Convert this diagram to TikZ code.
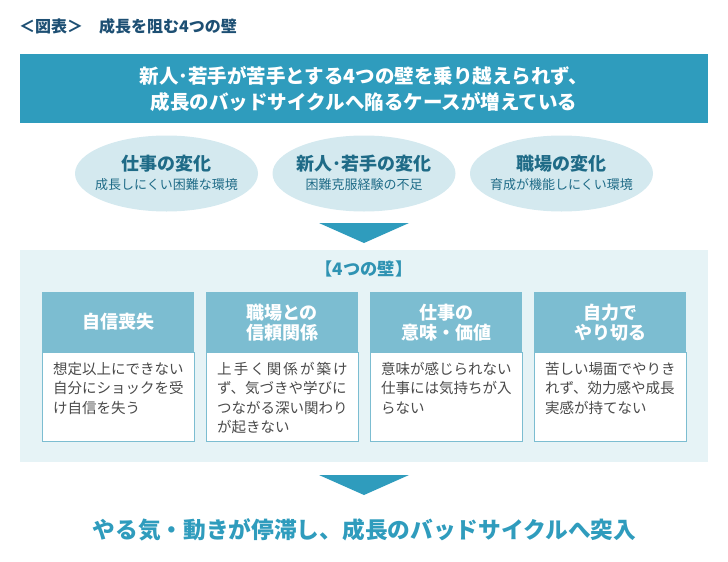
\documentclass[tikz,border=0pt]{standalone}
\usepackage{fontspec}
\newfontfamily\jp{Noto Sans CJK JP}
\usetikzlibrary{shapes.geometric}
\definecolor{navy}{HTML}{1D4F73}
\definecolor{banner}{HTML}{2F9CBD}
\definecolor{ellfill}{HTML}{D4E9EF}
\definecolor{elltext}{HTML}{1F6B87}
\definecolor{panelbg}{HTML}{E6F3F6}
\definecolor{hdr}{HTML}{7CBDD1}
\definecolor{bodytext}{HTML}{4A4A4A}
\definecolor{wall}{HTML}{2F93B3}
\tikzset{
  box/.style={inner sep=0pt, outer sep=0pt},
  ellbox/.style={ellipse, fill=ellfill, minimum width=183pt, minimum height=76pt, inner sep=0pt},
  elltitle/.style={anchor=base, inner sep=0pt, text=elltext, font=\jp\bfseries\fontsize{18}{20}\selectfont},
  ellsub/.style={anchor=base, inner sep=0pt, text=elltext, font=\jp\fontsize{13}{15}\selectfont},
  hdrbox/.style={box, fill=hdr, minimum width=152pt, minimum height=60pt},
  bodybox/.style={box, fill=white, draw=hdr, line width=0.8pt, minimum width=152pt, minimum height=89pt},
  hdrtext/.style={anchor=base, inner sep=0pt, text=white, align=center, font=\jp\bfseries\fontsize{18}{20}\selectfont},
  bodytxt/.style={anchor=base west, inner sep=0pt, text=bodytext, align=left, text width=134pt, font=\jp\fontsize{14.5}{19.3}\selectfont},
  tri/.style={fill=banner}
}
\newcommand\wallcard[6]{% x, name, header baseline (last line), header, body
  \node[hdrbox] (#2h) at (#1,322) {};
  \node[bodybox] (#2b) at (#1,396.5) {};
  \node[hdrtext] (#2ht) at (#1,#3) {#4};
  \node[bodytxt] (#2bt) at ([xshift=-65pt]#1,374.4) {#5};
}
\begin{document}
\begin{tikzpicture}[x=1pt,y=-1pt]
\useasboundingbox (0,0) rectangle (728,562);
% title
\node[anchor=base west, inner sep=0pt, text=navy, font=\jp\bfseries\fontsize{16}{18}\selectfont] (title) at (19,32) {＜図表＞　成長を阻む4つの壁};
% banner
\node[box, fill=banner, minimum width=688pt, minimum height=69pt] (banner) at (364,88.5) {};
\node[anchor=base, inner sep=0pt, align=center, text=white, font=\jp\bfseries\fontsize{19.5}{26}\selectfont] (bannertext) at (364,109) {新人･若手が苦手とする4つの壁を乗り越えられず、\\成長のバッドサイクルへ陥るケースが増えている};
% ellipses
\node[ellbox] (e1) at (166.5,173.5) {};
\node[ellbox] (e2) at (364,173.5) {};
\node[ellbox] (e3) at (561.5,173.5) {};
\node[elltitle] (e1t) at (166.5,170.7) {仕事の変化};
\node[ellsub] (e1s) at (166.5,189.8) {成長しにくい困難な環境};
\node[elltitle] (e2t) at (364,170.7) {新人･若手の変化};
\node[ellsub] (e2s) at (364,189.8) {困難克服経験の不足};
\node[elltitle] (e3t) at (561.5,170.7) {職場の変化};
\node[ellsub] (e3s) at (561.5,189.8) {育成が機能しにくい環境};
% arrow 1
\coordinate (a1l) at (319,223);
\coordinate (a1r) at (409,223);
\coordinate (a1t) at (364,243);
\fill[tri] (a1l) -- (a1r) -- (a1t) -- cycle;
% panel
\node[box, fill=panelbg, minimum width=688pt, minimum height=212pt] (panel) at (364,356) {};
\node[anchor=base, inner sep=0pt, text=wall, font=\jp\bfseries\fontsize{17.2}{19}\selectfont] (walls) at (364,275.3) {【4つの壁】};
% cards
\wallcard{118}{c1}{328.7}{自信喪失}{想定以上にできない\\自分にショックを受\\け自信を失う}{}
\wallcard{282}{c2}{339.7}{職場との\\信頼関係}{\makebox[130.5pt][s]{上\hfil 手\hfil く\hfil 関\hfil 係\hfil が\hfil 築\hfil け}\\ず、気づきや学びに\\つながる深い関わり\\が起きない}{}
\wallcard{446}{c3}{339.7}{仕事の\\意味・価値}{意味が感じられない\\仕事には気持ちが入\\らない}{}
\wallcard{610}{c4}{339.7}{自力で\\やり切る}{苦しい場面でやりき\\れず、効力感や成長\\実感が持てない}{}
% arrow 2
\coordinate (a2l) at (319,475);
\coordinate (a2r) at (409,475);
\coordinate (a2t) at (364,495);
\fill[tri] (a2l) -- (a2r) -- (a2t) -- cycle;
% bottom
\node[anchor=base, inner sep=0pt, text=banner, font=\jp\bfseries\fontsize{22.7}{24}\selectfont] (result) at (364.5,538.4) {やる気・動きが停滞し、成長のバッドサイクルへ突入};
\end{tikzpicture}
\end{document}
